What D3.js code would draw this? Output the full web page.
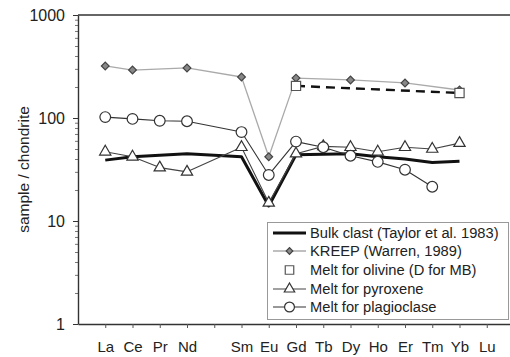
<!DOCTYPE html>
<html>
<head>
<meta charset="utf-8">
<script src="https://cdn.jsdelivr.net/npm/d3@7"></script>
<style>
  html, body { margin: 0; padding: 0; background: #fff; }
  svg text { font-family: 'Liberation Sans', Arial, sans-serif; fill: #222; }
</style>
</head>
<body>
<div id="chart"></div>
<script>
// REE elements and atomic numbers (Pm has a tick but no label)
const elements = ['La', 'Ce', 'Pr', 'Nd', 'Pm', 'Sm', 'Eu', 'Gd', 'Tb', 'Dy', 'Ho', 'Er', 'Tm', 'Yb', 'Lu'];
const atomicNumbers = [57, 58, 59, 60, 61, 62, 63, 64, 65, 66, 67, 68, 69, 70, 71];
const tickLabels = ['La', 'Ce', 'Pr', 'Nd', '', 'Sm', 'Eu', 'Gd', 'Tb', 'Dy', 'Ho', 'Er', 'Tm', 'Yb', 'Lu'];
const yTicks = [1, 10, 100, 1000];

// sample / chondrite, null = not plotted
const bulkClast   = [39, 42, null, 45, null, 42, 14, 44, 44.5, 45, 42, 40, 37, 38, null];
const kreep       = [320, 292, null, 306, null, 250, 42, 244, null, 234, null, 219, null, 187, null];
const meltOlivine = [null, null, null, null, null, null, null, 205, null, null, null, null, null, 175, null];
const meltPyrox   = [47, 42, 33, 30, null, 52, 15, 45, 53, 52, 47, 52, 50, 57, null];
const meltPlag    = [102, 98, 94, 93, null, 73, 28, 59, 52, 43, 37.5, 31.5, 21.5, null, null];

const seriesNames = [
  'Bulk clast (Taylor et al. 1983)',
  'KREEP (Warren, 1989)',
  'Melt for olivine (D for MB)',
  'Melt for pyroxene',
  'Melt for plagioclase'
];

const width = 510;
const height = 357;
const margin = {top: 15, right: -4, bottom: 33, left: 78};

const svg = d3.select('#chart')
  .append('svg')
  .attr('width', width)
  .attr('height', height);

const x = d3.scaleLinear()
  .domain([56, 72])
  .range([margin.left, width - margin.right]);

const y = d3.scaleLog()
  .domain([1, 1000])
  .range([height - margin.bottom, margin.top]);

// top frame line
svg.append('line')
  .attr('x1', x(56)).attr('x2', width)
  .attr('y1', y(1000)).attr('y2', y(1000))
  .style('stroke', '#333')
  .style('stroke-width', 1.6);

// y axis with minor ticks
const minor = [];
[1, 10, 100].forEach(d => {
  for (let k = 2; k < 10; k++) minor.push(d * k);
});
svg.append('g')
  .attr('transform', `translate(${x(56)},0)`)
  .call(d3.axisLeft(y).tickValues(minor).tickSize(3).tickFormat(''))
  .call(g => g.select('.domain').remove())
  .call(g => g.selectAll('line').style('stroke', '#777'));

const yAxis = svg.append('g')
  .attr('transform', `translate(${x(56)},0)`)
  .call(d3.axisLeft(y).tickValues(yTicks).tickSize(5).tickSizeOuter(0).tickPadding(8).tickFormat(d3.format('d')));
yAxis.select('.domain').style('stroke', '#333').style('stroke-width', 1.4);
yAxis.selectAll('line').style('stroke', '#333');
yAxis.selectAll('text').style('font-size', '16px').style('fill', '#222');

// x axis
const xAxis = svg.append('g')
  .attr('transform', `translate(0,${y(1)})`)
  .call(d3.axisBottom(x).tickValues(atomicNumbers).tickSize(4).tickSizeOuter(0).tickPadding(13)
    .tickFormat((d, i) => tickLabels[i]));
xAxis.select('.domain').style('stroke', '#333').style('stroke-width', 1.6);
xAxis.selectAll('line').style('stroke', '#555');
xAxis.selectAll('text').style('font-size', '15px').style('fill', '#222');

// axis title
svg.append('text')
  .attr('transform', `translate(29,${(y(1000) + y(1)) / 2}) rotate(-90)`)
  .attr('text-anchor', 'middle')
  .style('font-size', '15.5px')
  .text('sample / chondrite');

const toPoints = vals => vals
  .map((v, i) => ({n: atomicNumbers[i], v: v}))
  .filter(d => d.v !== null);

const line = d3.line()
  .x(d => x(d.n))
  .y(d => y(d.v));

const series = [
  {name: seriesNames[0], vals: bulkClast, stroke: '#111', width: 3, dash: null, sym: null},
  {name: seriesNames[1], vals: kreep, stroke: '#aaa', width: 1.3, dash: null,
    sym: d3.symbolSquare, size: 30, rot: 45, fill: '#888', mstroke: '#444'},
  {name: seriesNames[2], vals: meltOlivine, stroke: '#111', width: 2.4, dash: '9,6',
    sym: d3.symbolSquare, size: 85, rot: 0, fill: '#fff', mstroke: '#555'},
  {name: seriesNames[3], vals: meltPyrox, stroke: '#444', width: 1.1, dash: null,
    sym: d3.symbolTriangle, size: 55, rot: 0, fill: '#fff', mstroke: '#333'},
  {name: seriesNames[4], vals: meltPlag, stroke: '#333', width: 1.1, dash: null,
    sym: d3.symbolCircle, size: 90, rot: 0, fill: '#fff', mstroke: '#333'}
];

const plot = svg.append('g').attr('class', 'series');

series.forEach(s => {
  const pts = toPoints(s.vals);
  plot.append('path')
    .datum(pts)
    .attr('d', line)
    .style('fill', 'none')
    .style('stroke', s.stroke)
    .style('stroke-width', s.width)
    .style('stroke-dasharray', s.dash)
    .style('stroke-linejoin', 'round');
  if (s.sym) {
    plot.append('g')
      .selectAll('path')
      .data(pts)
      .enter().append('path')
        .attr('transform', d => `translate(${x(d.n)},${y(d.v)}) rotate(${s.rot})`)
        .attr('d', d3.symbol().type(s.sym).size(s.size))
        .style('fill', s.fill)
        .style('stroke', s.mstroke)
        .style('stroke-width', 1.2);
  }
});

// legend
const legend = svg.append('g').attr('class', 'legend');
legend.append('rect')
  .attr('x', 267.5).attr('y', 222.5)
  .attr('width', 241).attr('height', 97)
  .style('fill', '#fff')
  .style('stroke', '#999')
  .style('stroke-width', 1);

const rowY = [233, 251, 270, 289, 307];
series.forEach((s, i) => {
  const g = legend.append('g').attr('transform', `translate(0,${rowY[i]})`);
  if (i !== 2) {
    g.append('line')
      .attr('x1', 273).attr('x2', 306)
      .style('stroke', s.stroke)
      .style('stroke-width', s.width);
  }
  if (s.sym) {
    g.append('path')
      .attr('transform', `translate(289.5,0) rotate(${s.rot})`)
      .attr('d', d3.symbol().type(s.sym).size(i === 1 ? 22 : s.size * 0.85))
      .style('fill', s.fill)
      .style('stroke', s.mstroke)
      .style('stroke-width', 1.2);
  }
  g.append('text')
    .attr('x', 310)
    .attr('dy', '0.35em')
    .style('font-size', '14.7px')
    .text(s.name);
});
</script>
</body>
</html>
